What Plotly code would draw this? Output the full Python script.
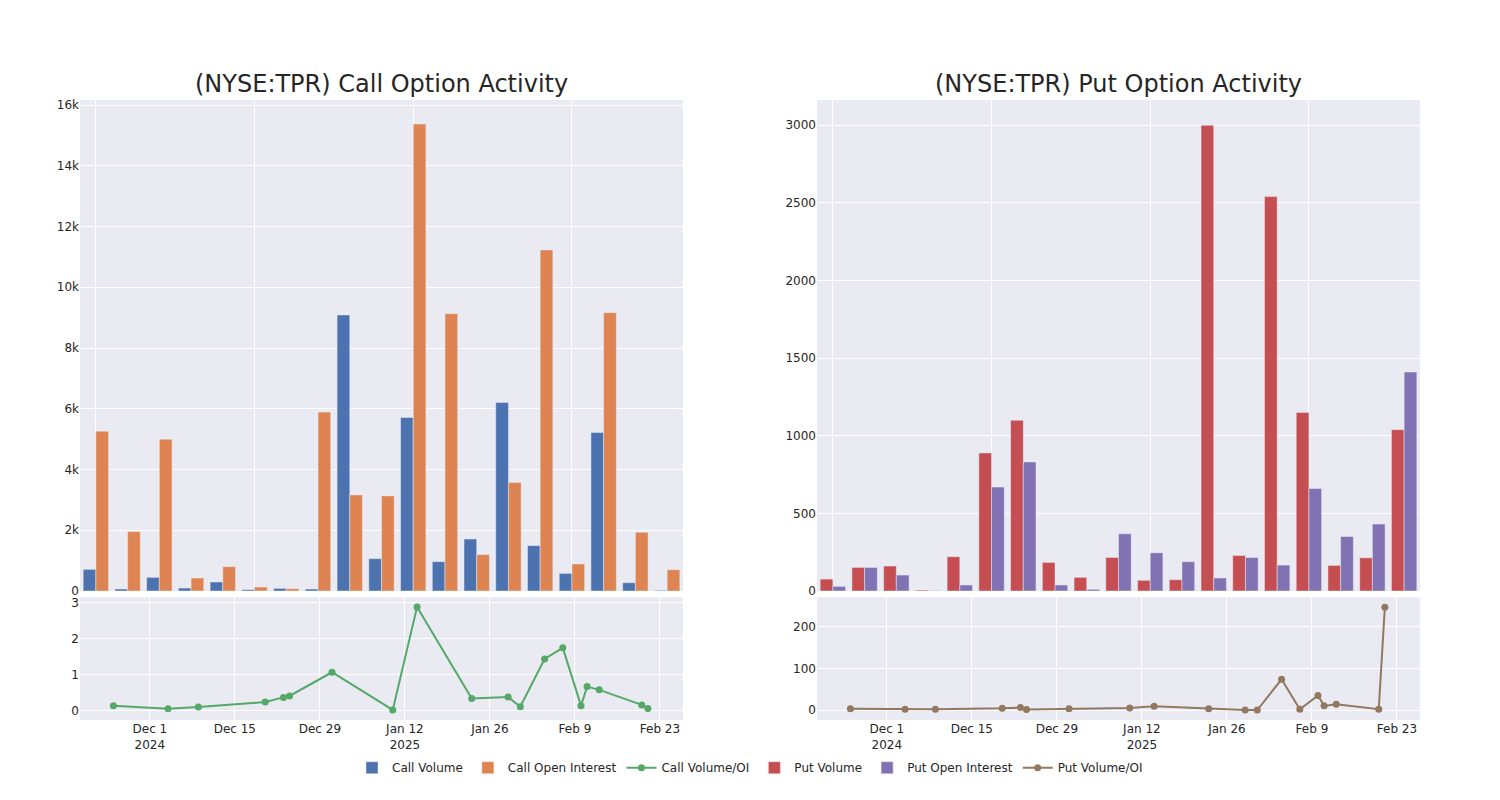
import plotly.graph_objects as go

dates = ["2024-11-25", "2024-12-04", "2024-12-09", "2024-12-20", "2024-12-23",
         "2024-12-24", "2024-12-31", "2025-01-10", "2025-01-14", "2025-01-23",
         "2025-01-29", "2025-01-31", "2025-02-04", "2025-02-07", "2025-02-10",
         "2025-02-11", "2025-02-13", "2025-02-20", "2025-02-21"]

call_volume = [714, 66, 450, 99, 297, 44, 88, 66, 9088, 1066, 5714, 967, 1714,
               6209, 1495, 582, 5220, 275, 22]
call_oi = [5264, 1956, 5000, 429, 802, 132, 77, 5890, 3165, 3132, 15374, 9132,
           1198, 3571, 11231, 890, 9165, 1934, 703]
call_ratio = [0.13, 0.04, 0.09, 0.23, 0.36, 0.40, 1.06, 0.01, 2.88, 0.33, 0.37,
              0.10, 1.43, 1.74, 0.13, 0.66, 0.57, 0.15, 0.05]

put_volume = [77, 152, 161, 6, 221, 889, 1099, 184, 88, 216, 69, 73, 2998, 229,
              2539, 1149, 165, 214, 1039]
put_oi = [30, 152, 103, 2, 39, 669, 831, 39, 11, 369, 246, 189, 84, 216, 167,
          660, 351, 431, 1410]
put_ratio = [3, 2, 2, 4, 6, 1, 3, 5, 9, 3, 0, 0, 74, 2, 35, 10, 14, 2, 247]

C_BLUE, C_ORANGE, C_GREEN = "#4C72B0", "#DD8452", "#55A868"
C_RED, C_PURPLE, C_BROWN = "#C44E52", "#8172B3", "#937860"
FONT = "DejaVu Sans"
TXT = "#262626"

fig = go.Figure()
bar_line = dict(color="rgb(234,234,242)", width=0.5)

fig.add_trace(go.Bar(x=dates, y=call_volume, name="Call Volume", marker=dict(color=C_BLUE, line=bar_line),
                     xaxis="x", yaxis="y"))
fig.add_trace(go.Bar(x=dates, y=call_oi, name="Call Open Interest", marker=dict(color=C_ORANGE, line=bar_line),
                     xaxis="x", yaxis="y"))
fig.add_trace(go.Scatter(x=dates, y=call_ratio, name="Call Volume/OI", mode="lines+markers",
                         line=dict(color=C_GREEN, width=2), marker=dict(size=7, color=C_GREEN),
                         xaxis="x3", yaxis="y3"))
fig.add_trace(go.Bar(x=dates, y=put_volume, name="Put Volume", marker=dict(color=C_RED, line=bar_line),
                     xaxis="x2", yaxis="y2"))
fig.add_trace(go.Bar(x=dates, y=put_oi, name="Put Open Interest", marker=dict(color=C_PURPLE, line=bar_line),
                     xaxis="x2", yaxis="y2"))
fig.add_trace(go.Scatter(x=dates, y=put_ratio, name="Put Volume/OI", mode="lines+markers",
                         line=dict(color=C_BROWN, width=2), marker=dict(size=7, color=C_BROWN),
                         xaxis="x4", yaxis="y4"))

grid = "white"
bg = "#EAEAF2"
cat_ticks = [dates[0], dates[5], dates[10], dates[15]]
date_range = ["2024-11-19 12:00", "2025-02-26 19:00"]
tf = dict(size=12, color=TXT, family=FONT)
date_axis = dict(type="date", range=date_range, tick0="2024-12-01", dtick=14 * 86400000,
                 gridcolor=grid, showline=False, zeroline=False, ticks="", automargin=False,
                 tickfont=tf)
cat_axis = dict(type="category", range=[-0.5, 18.5], tickmode="array", tickvals=cat_ticks,
                showticklabels=False, gridcolor=grid, zeroline=False, ticks="", automargin=False)
yax = dict(gridcolor=grid, zeroline=False, ticks="", tickfont=tf, automargin=False)

top_dom = [0.208, 1.0]
bot_dom = [0.0, 0.198]
left_dom = [0.0, 0.45]
right_dom = [0.55, 1.0]

fig.update_layout(
    width=1500, height=800,
    template="seaborn",
    plot_bgcolor=bg, paper_bgcolor="white",
    margin=dict(l=72, r=88, t=92, b=88, autoexpand=False),
    barmode="group", bargap=0.2, bargroupgap=0,
    font=dict(color=TXT, family=FONT),
    xaxis=dict(domain=left_dom, anchor="y", **cat_axis),
    yaxis=dict(domain=top_dom, anchor="x", range=[0, 16165],
               tickvals=[0, 2000, 4000, 6000, 8000, 10000, 12000, 14000, 16000],
               ticktext=["0", "2k", "4k", "6k", "8k", "10k", "12k", "14k", "16k"], **yax),
    xaxis2=dict(domain=right_dom, anchor="y2", **cat_axis),
    yaxis2=dict(domain=top_dom, anchor="x2", range=[0, 3161], dtick=500, **yax),
    xaxis3=dict(domain=left_dom, anchor="y3", **date_axis),
    yaxis3=dict(domain=bot_dom, anchor="x3", range=[-0.27, 3.15], dtick=1, **yax),
    xaxis4=dict(domain=right_dom, anchor="y4", **date_axis),
    yaxis4=dict(domain=bot_dom, anchor="x4", range=[-24, 271.3], dtick=100, **yax),
    legend=dict(orientation="h", x=0.5, xanchor="center", y=-0.077, yanchor="middle",
                font=dict(size=12, family=FONT, color=TXT), bgcolor="rgba(0,0,0,0)"),
    annotations=[
        dict(text="(NYSE:TPR) Call Option Activity", x=0.225, y=1.0, xref="paper", yref="paper",
             xanchor="center", yanchor="middle", yshift=16, showarrow=False,
             font=dict(size=24, color=TXT, family=FONT)),
        dict(text="(NYSE:TPR) Put Option Activity", x=0.775, y=1.0, xref="paper", yref="paper",
             xanchor="center", yanchor="middle", yshift=16, showarrow=False,
             font=dict(size=24, color=TXT, family=FONT)),
    ],
)

fig.write_html("out.html")
